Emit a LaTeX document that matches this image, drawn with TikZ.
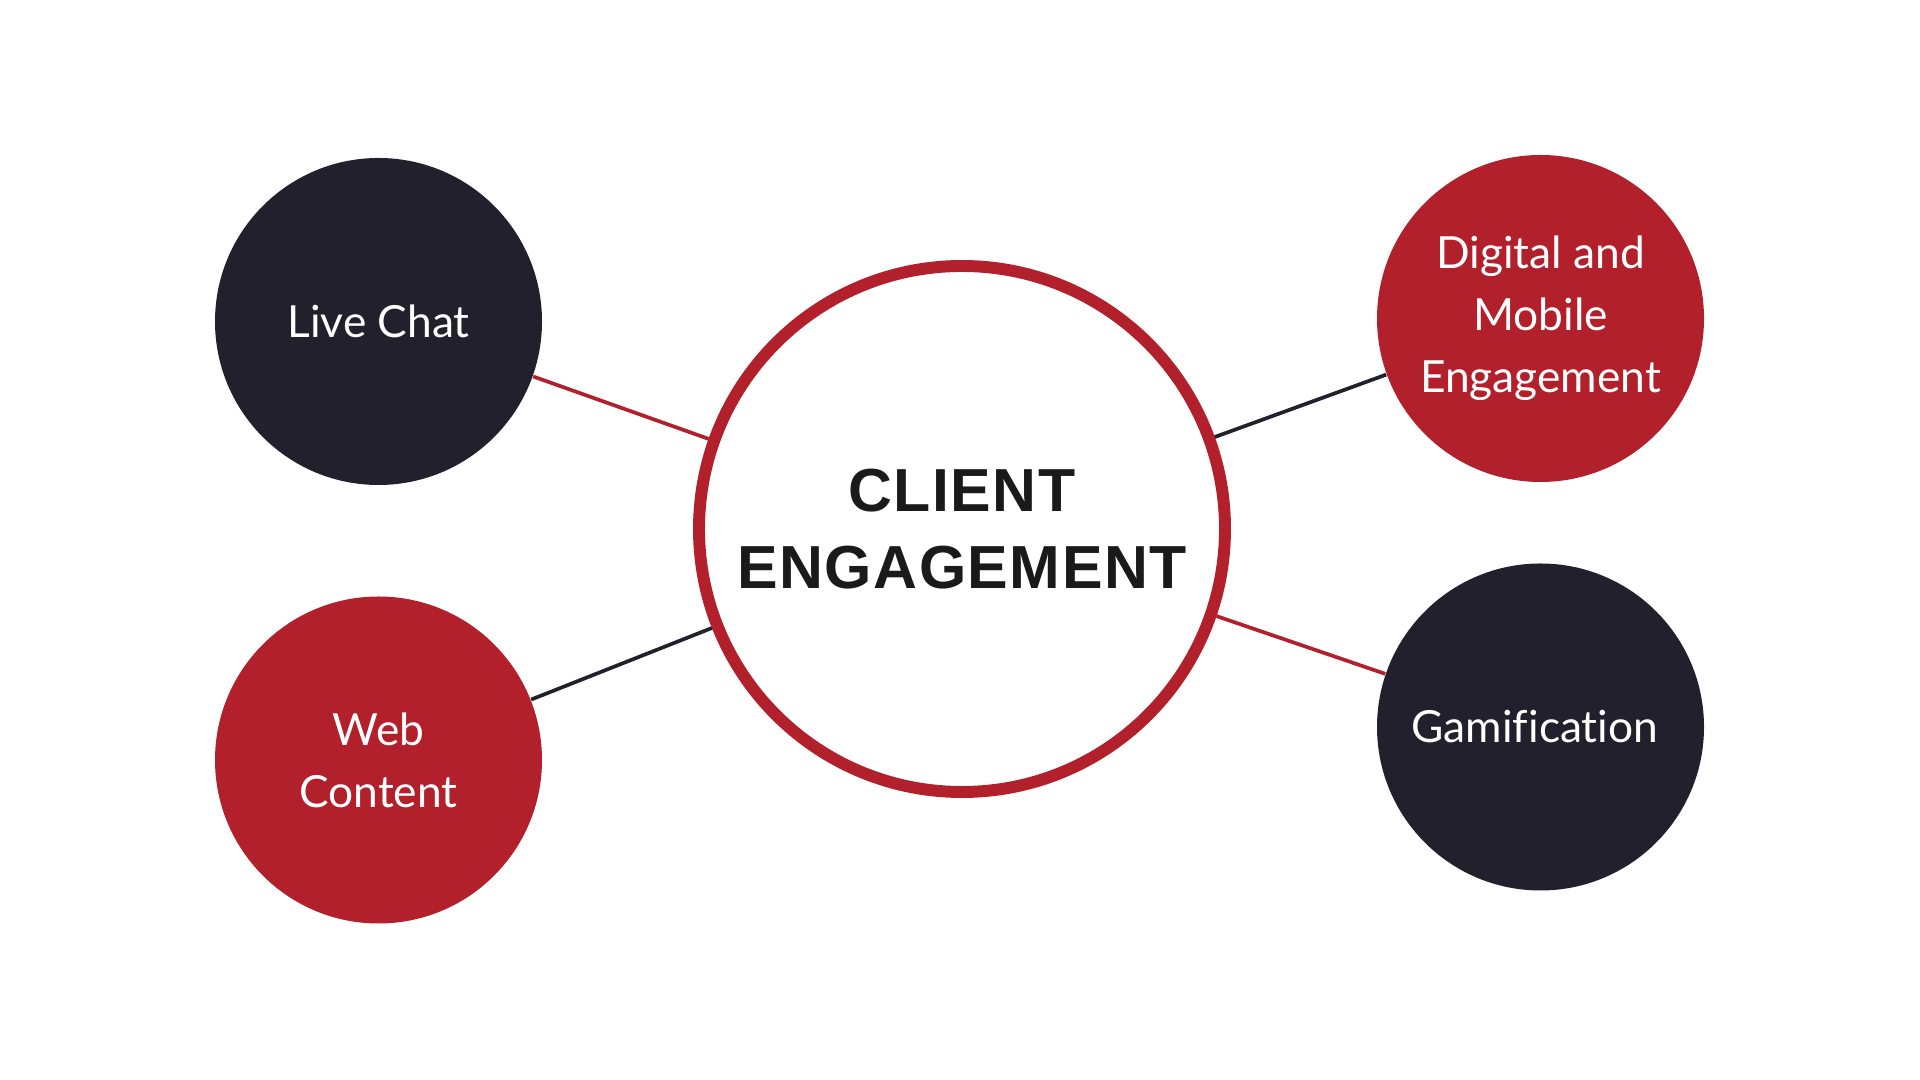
\documentclass[tikz,border=0pt]{standalone}
\usepackage{fontspec}
\setmainfont[Ligatures=NoCommon]{Lato}
\newfontfamily\titlefont[LetterSpace=2.5]{Liberation Sans}
\usepackage{xcolor}
\usetikzlibrary{calc}
\definecolor{EngRed}{RGB}{178,32,44}
\definecolor{EngNavy}{RGB}{35,32,46}
\definecolor{EngDark}{RGB}{26,26,26}

\begin{document}
\begin{tikzpicture}
  % Hub diagram: one ringed centre circle, four filled satellites
  % Canvas 19.2 x 10.8 cm, i.e. 1 px of the 1920x1080 frame = 0.01 cm
  \useasboundingbox (0,0) rectangle (19.2,10.8);
  \fill[white] (0,0) rectangle (19.2,10.8);

  \tikzset{
    sat/.style={circle,minimum size=3.27cm,inner sep=0pt,text=white,
      align=center,font=\fontsize{12.6}{17.7}\selectfont},
    link/.style={line width=1.05pt}
  }

  % Centre
  \node[circle,draw=EngRed,line width=3.4pt,fill=white,minimum size=5.26cm,
    inner sep=0pt,align=center,text=EngDark,
    font=\titlefont\bfseries\fontsize{17.3}{22}\selectfont] (hub) at (9.62,5.51)
    {CLIENT\\ENGAGEMENT};

  % Satellites -- name/position/fill/label
  \foreach \nm/\pos/\col/\lbl in {
    chat/{3.785,7.585}/EngNavy/{Live Chat},
    web/{3.785,3.20}/EngRed/{Web\\Content},
    mobile/{15.405,7.615}/EngRed/{Digital and\\Mobile\\Engagement},
    game/{15.405,3.53}/EngNavy/{Gamification}
  }{
    \node[sat,fill=\col] (\nm) at (\pos) {\lbl};
  }

  % Links, coloured opposite to the satellite
  \foreach \nm/\col in {chat/EngRed,web/EngNavy,mobile/EngNavy,game/EngRed}{
    \draw[link,\col] (\nm) -- (hub);
  }
\end{tikzpicture}
\end{document}
